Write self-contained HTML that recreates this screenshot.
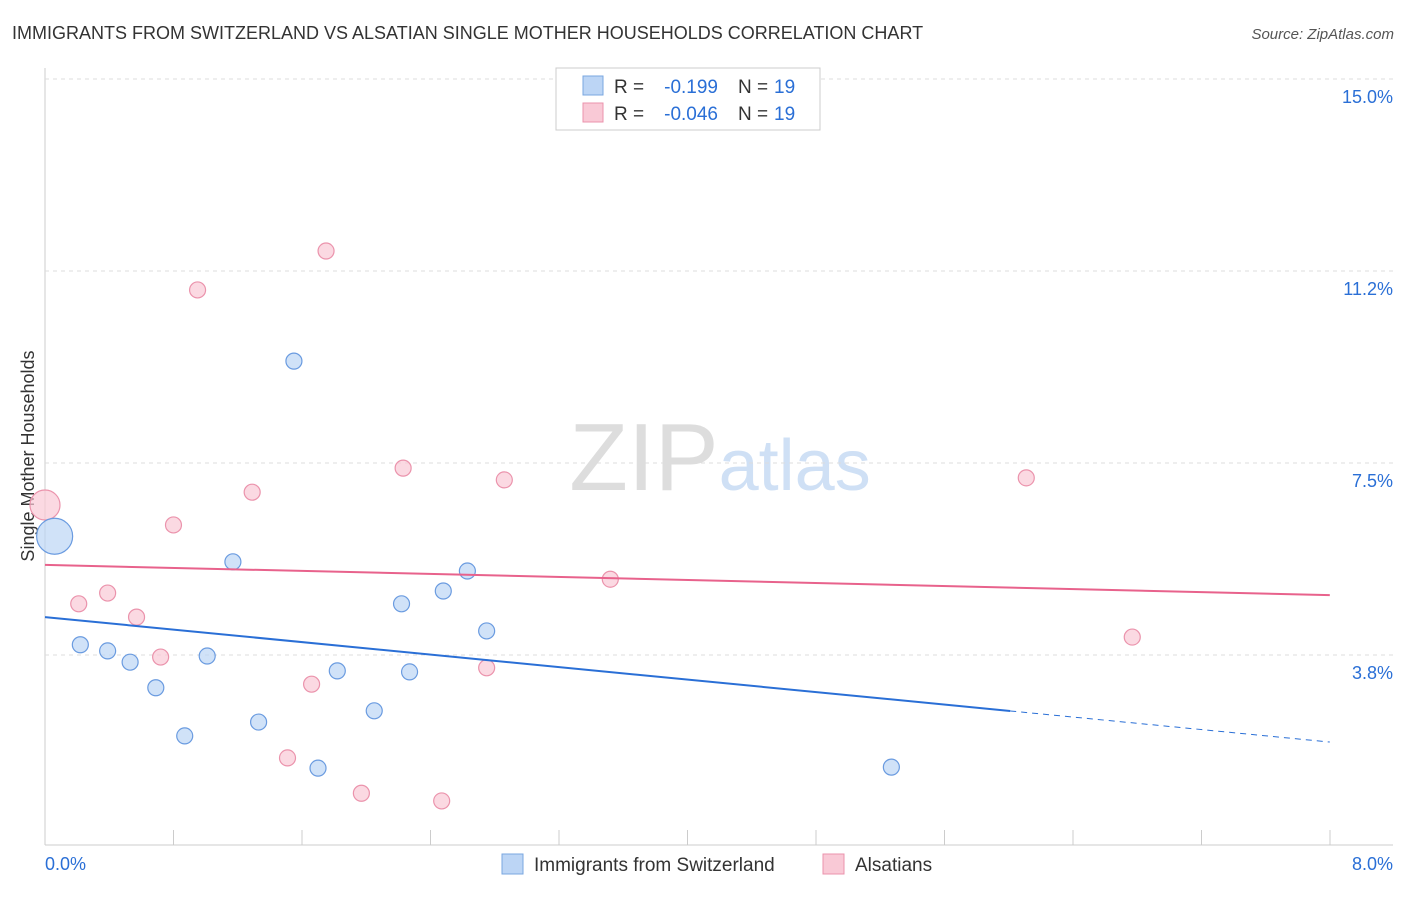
<!DOCTYPE html>
<html><head><meta charset="utf-8"><style>
body{margin:0;background:#fff;font-family:"Liberation Sans",sans-serif;}
svg text{font-family:"Liberation Sans",sans-serif;}
</style></head><body>
<svg id="c" width="1406" height="892" xmlns="http://www.w3.org/2000/svg">
<text x="12" y="39" font-size="18" fill="#333">IMMIGRANTS FROM SWITZERLAND VS ALSATIAN SINGLE MOTHER HOUSEHOLDS CORRELATION CHART</text>
<text x="1394" y="39" font-size="15" fill="#555" text-anchor="end" font-style="italic">Source: ZipAtlas.com</text>
<text x="720" y="490" font-size="96" text-anchor="middle" fill="#ddd" font-family="Liberation Serif">ZIP<tspan fill="#cfe0f5" font-family="Liberation Sans" font-size="72">atlas</tspan></text>
<text transform="translate(34,456) rotate(-90)" font-size="18" fill="#333" text-anchor="middle">Single Mother Households</text>
<g id="grid"></g><g id="marks"></g>
<g>
<rect x="556" y="68" width="264" height="62" fill="#fff" stroke="#ccc"/>
<rect x="583" y="76" width="20" height="19" fill="#bcd5f5" stroke="#7aa7e0"/>
<rect x="583" y="103" width="20" height="19" fill="#f9c9d6" stroke="#eb93ac"/>
<text x="614" y="93" font-size="19" fill="#333">R =</text>
<text x="718" y="93" font-size="19" fill="#2a6fd6" text-anchor="end">-0.199</text>
<text x="738" y="93" font-size="19" fill="#333">N =</text>
<text x="774" y="93" font-size="19" fill="#2a6fd6">19</text>
<text x="614" y="120" font-size="19" fill="#333">R =</text>
<text x="718" y="120" font-size="19" fill="#2a6fd6" text-anchor="end">-0.046</text>
<text x="738" y="120" font-size="19" fill="#333">N =</text>
<text x="774" y="120" font-size="19" fill="#2a6fd6">19</text>
</g>
<g>
<rect x="502" y="854" width="21" height="20" fill="#bcd5f5" stroke="#7aa7e0"/>
<text x="534" y="871" font-size="19" fill="#333">Immigrants from Switzerland</text>
<rect x="823" y="854" width="21" height="20" fill="#f9c9d6" stroke="#eb93ac"/>
<text x="855" y="871" font-size="19" fill="#333">Alsatians</text>
</g>
</svg>
<script>
const yTicks=[15.0,11.2,7.5,3.8];
const yTickVals=[15,11.25,7.5,3.75];
const xLabels=["0.0%","8.0%"];
const blueX=[0.06,0.22,0.39,0.53,0.69,0.87,1.01,1.17,1.33,1.55,1.70,1.82,2.05,2.22,2.27,2.48,2.63,2.75,5.27];
const blueY=[6.07,3.95,3.83,3.61,3.11,2.17,3.73,5.57,2.44,9.49,1.54,3.44,2.66,4.75,3.42,5.0,5.39,4.22,1.56];
const pinkX=[0,0.21,0.39,0.57,0.72,0.80,0.95,1.29,1.51,1.66,1.75,1.97,2.23,2.47,2.75,2.86,3.52,6.11,6.77];
const pinkY=[6.68,4.75,4.96,4.49,3.71,6.29,10.88,6.93,1.74,3.18,11.64,1.05,7.40,0.90,3.50,7.17,5.23,7.21,4.10];
const blueLine=[4.49,2.05], blueSolidEnd=6.01;
const pinkLine=[5.51,4.92];
const X=v=>45+v*160.6, Y=v=>79+(15-v)*51.2;
const NS="http://www.w3.org/2000/svg";
function mk(tag,attrs,parent){const e=document.createElementNS(NS,tag);for(const k in attrs)e.setAttribute(k,attrs[k]);parent.appendChild(e);return e;}
const g=document.getElementById('grid'), m=document.getElementById('marks');
let ax=mk('line',{x1:45,y1:68,x2:45,y2:845,stroke:'#ccc'},g);


let bx=mk('line',{x1:45,y1:845,x2:1393,y2:845,stroke:'#ccc'},g);


yTickVals.forEach((v,i)=>{
 let l=mk('line',{x1:45,x2:1393,y1:Y(v),y2:Y(v),stroke:'#ddd','stroke-dasharray':'4,4'},g);
 
 
 let t=mk('text',{x:1393,y:Y(v)+24,'font-size':18,fill:'#2a6fd6','text-anchor':'end'},g);
 t.textContent=yTicks[i].toFixed(1)+'%';
 
 
});
for(let i=1;i<=10;i++){let x=45+i*128.5;let l=mk('line',{x1:x,x2:x,y1:830,y2:845,stroke:'#ccc'},g);
 
 }
[[45,'start',0],[1393,'end',1]].forEach(([x,a,i])=>{let t=mk('text',{x:x,y:870,'font-size':18,fill:'#2a6fd6','text-anchor':a},g);t.textContent=xLabels[i];
 
 });
function dots(xs,ys,fill,stroke,name,bigR){xs.forEach((x,i)=>{const big=(x<0.1);
 let c=mk('circle',{cx:X(x),cy:Y(ys[i]),r:big?bigR:8,fill:fill,stroke:stroke,'stroke-width':1.2,'fill-opacity':0.7},m);
 
 });}
dots(pinkX,pinkY,'#f9c9d6','#eb93ac','alsatians-point',15);
dots(blueX,blueY,'#bcd5f5','#6a9be0','switzerland-point',18);
const bAt=x=>blueLine[0]+(blueLine[1]-blueLine[0])*x/8;
let l1=mk('line',{x1:X(0),y1:Y(bAt(0)),x2:X(blueSolidEnd),y2:Y(bAt(blueSolidEnd)),stroke:'#2a6fd6','stroke-width':2},m);


let l2=mk('line',{x1:X(blueSolidEnd),y1:Y(bAt(blueSolidEnd)),x2:X(8),y2:Y(bAt(8)),stroke:'#2a6fd6','stroke-width':1,'stroke-dasharray':'6,5'},m);


let l3=mk('line',{x1:X(0),y1:Y(pinkLine[0]),x2:X(8),y2:Y(pinkLine[1]),stroke:'#e8628c','stroke-width':2},m);


</script>
</body></html>
